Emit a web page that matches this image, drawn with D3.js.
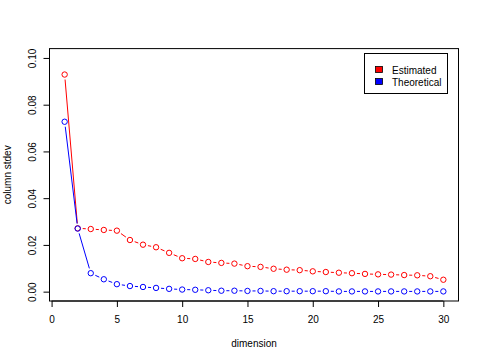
<!DOCTYPE html>
<html>
<head>
<meta charset="utf-8">
<script src="https://cdn.jsdelivr.net/npm/d3@7"></script>
<style>
body { margin: 0; background: #fff; }
text { font-family: "Liberation Sans", Arial, sans-serif; font-size: 10px; fill: #000; }
</style>
</head>
<body>
<svg width="485" height="363"></svg>
<script>
var svg = d3.select("svg");

// values
var dims = d3.range(1, 31);
var estimated = [0.0929, 0.0271, 0.0268, 0.0264, 0.0261, 0.0221, 0.0201, 0.0190, 0.0166, 0.0143,
	0.0140, 0.0127, 0.0123, 0.0120, 0.0109, 0.0106, 0.0098, 0.0094, 0.0092, 0.0087,
	0.0084, 0.0081, 0.0079, 0.0076, 0.0074, 0.0073, 0.0071, 0.0070, 0.0066, 0.0051];
var theoretical = [0.0727, 0.0270, 0.0079, 0.0053, 0.0032, 0.0024, 0.0020, 0.0016, 0.0012, 0.0009,
	0.0008, 0.0006, 0.0004, 0.0004, 0.0003, 0.0003, 0.0002, 0.0002, 0.0002, 0.0002,
	0.0002, 0.0001, 0.0001, 0.0001, 0.0001, 0.0001, 0.0001, 0.0001, 0.0001, 0.0001];
var xTicks = [0, 5, 10, 15, 20, 25, 30];
var yTicks = [0, 0.02, 0.04, 0.06, 0.08, 0.10];
var seriesNames = ["Estimated", "Theoretical"];
var seriesColors = ["#ff0000", "#0000ff"];

var plotLeft = 49.5, plotRight = 458.5, plotTop = 48.6, plotBottom = 301;

// R style: 4% padding around the data range
var x = d3.scaleLinear().domain([1 - 0.04 * 29, 30 + 0.04 * 29]).range([plotLeft, plotRight]);
var y = d3.scaleLinear().domain([-0.004, 0.104]).range([plotBottom, plotTop]);

//box
svg.append("rect")
	.attr("x", plotLeft).attr("y", plotTop)
	.attr("width", plotRight - plotLeft).attr("height", plotBottom - plotTop)
	.attr("fill", "none").attr("stroke", "#000");

//axes
var xAxis = svg.append("g")
	.attr("transform", "translate(0," + plotBottom + ")")
	.call(d3.axisBottom(x).tickValues(xTicks).tickSize(6).tickPadding(9).tickFormat(d3.format("d")));
xAxis.select(".domain").attr("d", "M" + x(0) + ",0H" + x(30));

var yAxis = svg.append("g")
	.attr("transform", "translate(" + plotLeft + ",0)")
	.call(d3.axisLeft(y).tickValues(yTicks).tickSize(6).tickFormat(d3.format(".2f")));
yAxis.select(".domain").attr("d", "M0," + y(0) + "V" + y(0.1));
yAxis.selectAll(".tick text")
	.attr("x", null).attr("dy", null)
	.attr("text-anchor", "middle")
	.attr("transform", "translate(-14,0) rotate(-90)");

svg.append("text")
	.attr("x", (plotLeft + plotRight) / 2).attr("y", 347)
	.attr("text-anchor", "middle").text("dimension");
svg.append("text")
	.attr("transform", "translate(11," + ((plotTop + plotBottom) / 2) + ") rotate(-90)")
	.attr("text-anchor", "middle").text("column stdev");

//type = "b": points with line segments that stop short of them
function drawSeries(values, color) {
	var pts = dims.map(function(d, i) { return [x(d), y(values[i])]; });
	var gap = 5;
	var g = svg.append("g");
	for (var i = 0; i < pts.length - 1; i++) {
		var a = pts[i], b = pts[i + 1];
		var dx = b[0] - a[0], dy = b[1] - a[1];
		var len = Math.sqrt(dx * dx + dy * dy);
		if (len <= 2 * gap) continue;
		var ux = dx / len, uy = dy / len;
		g.append("line")
			.attr("x1", a[0] + ux * gap).attr("y1", a[1] + uy * gap)
			.attr("x2", b[0] - ux * gap).attr("y2", b[1] - uy * gap)
			.attr("stroke", color).attr("stroke-width", 1);
	}
	g.selectAll("circle")
		.data(pts)
		.enter().append("circle")
			.attr("cx", function(d) { return d[0]; })
			.attr("cy", function(d) { return d[1]; })
			.attr("r", 2.7)
			.attr("fill", "none")
			.attr("stroke", color)
			.attr("stroke-width", 1);
}
drawSeries(estimated, seriesColors[0]);
drawSeries(theoretical, seriesColors[1]);

//legend
var legend = svg.append("g");
legend.append("rect")
	.attr("x", 364.5).attr("y", 53.5).attr("width", 83).attr("height", 40)
	.attr("fill", "#fff").attr("stroke", "#000");
seriesNames.forEach(function(name, i) {
	var cy = 70 + i * 12;
	legend.append("rect")
		.attr("x", 375.5).attr("y", cy - 3.5).attr("width", 7).attr("height", 6)
		.attr("fill", seriesColors[i]).attr("stroke", "#000").attr("stroke-width", 0.8);
	legend.append("text")
		.attr("x", 392).attr("y", cy + 3.5).text(name);
});
</script>
</body>
</html>
